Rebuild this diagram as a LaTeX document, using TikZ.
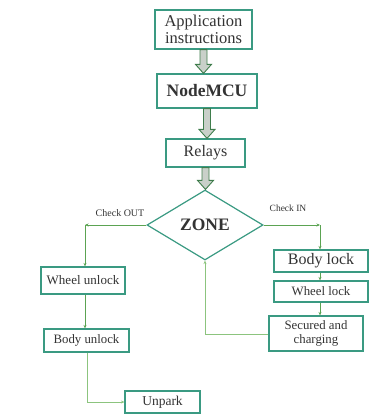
\documentclass[tikz,border=0pt]{standalone}
\usepackage{fontspec}
\setmainfont{Liberation Serif}
\usetikzlibrary{shapes.geometric,arrows.meta,calc}
\definecolor{boxc}{HTML}{3A9A82}
\definecolor{linec}{HTML}{5BA352}
\definecolor{linel}{HTML}{8CC47E}
\definecolor{harc}{HTML}{3F7D4C}
\definecolor{harf}{HTML}{C9D0C9}
\definecolor{txt}{HTML}{333333}
\newcommand\harrow[2]{\draw[harrowstyle] let \p1=(#1.south), \p2=(#2.north) in
  (\x1-3.5pt,\y1) -- (\x1+3.5pt,\y1) -- (\x1+3.5pt,\y2+9pt) -- (\x1+8pt,\y2+9pt) -- (\x1,\y2)
  -- (\x1-8pt,\y2+9pt) -- (\x1-3.5pt,\y2+9pt) -- cycle;}
\begin{document}
\begin{tikzpicture}[x=1pt,y=-1pt,
  box/.style={draw=boxc,line width=1.2pt,fill=white,text=txt,inner sep=0pt,align=center},
  harrowstyle/.style={draw=harc,fill=harf,line width=0.9pt,line join=miter},
  conn/.style={draw=linec,line width=0.7pt,-{Stealth[length=3.5pt,width=3pt]}},
  connl/.style={draw=linel,line width=0.7pt},
  lab/.style={text=txt,inner sep=0pt}]
\useasboundingbox (0,0) rectangle (383,417);
\node[box,minimum width=97pt,minimum height=39pt,font=\fontsize{16.5}{17}\selectfont] (app) at (203.5,29.5) {Application\\instructions};
\node[box,minimum width=100pt,minimum height=34pt,font=\fontsize{17.5}{18}\selectfont\bfseries] (mcu) at (207,91) {NodeMCU};
\node[box,minimum width=79pt,minimum height=28pt,font=\fontsize{16}{17}\selectfont] (rel) at (205.5,153) {Relays};
\node[diamond,draw=boxc,line width=1.2pt,fill=white,text=txt,inner sep=0pt,minimum width=116pt,minimum height=70pt,font=\fontsize{17.5}{18}\selectfont\bfseries] (zone) at (205,225) {ZONE};
\node[box,minimum width=84pt,minimum height=27pt,font=\fontsize{13}{14}\selectfont] (wu) at (83,280.5) {Wheel unlock};
\node[box,minimum width=85pt,minimum height=23pt,font=\fontsize{12.8}{14}\selectfont] (bu) at (86.5,340.5) {Body unlock};
\node[box,minimum width=75pt,minimum height=22pt,font=\fontsize{13.5}{14}\selectfont] (up) at (162.5,402) {Unpark};
\node[box,minimum width=94pt,minimum height=22pt,font=\fontsize{16}{17}\selectfont] (bl) at (321,261) {Body lock};
\node[box,minimum width=94pt,minimum height=21pt,font=\fontsize{12.8}{14}\selectfont] (wl) at (321,291.5) {Wheel lock};
\node[box,minimum width=94pt,minimum height=35pt,font=\fontsize{12.8}{14}\selectfont] (sc) at (316,333.5) {Secured and\\charging};
\node[lab,font=\fontsize{10}{11}\selectfont] (lout) at (120,213) {Check OUT};
\node[lab,font=\fontsize{9.5}{10}\selectfont] (lin) at (288,208) {Check IN};
\coordinate (cl) at (85,225);
\coordinate (cr) at (320,225);
\coordinate (cb) at (87,402);
\coordinate (cs) at (205,334);
\harrow{app}{mcu}
\harrow{mcu}{rel}
\harrow{rel}{zone}
\draw[conn] (zone.west) -- (cl);
\draw[conn] (cl) -- (cl |- wu.north);
\draw[conn] (wu.south -| cl) -- (bu.north -| cl);
\draw[connl] (bu.south -| cb) -- (cb);
\draw[conn,draw=linel] (cb) -- (up.west);
\draw[conn] (zone.east) -- (cr);
\draw[conn] (cr) -- (cr |- bl.north);
\draw[conn] (bl.south -| cr) -- (wl.north -| cr);
\draw[conn] (wl.south -| cr) -- (sc.north -| cr);
\draw[connl] (sc.west |- cs) -- (cs);
\draw[conn,draw=linel] (cs) -- (zone.south);
\end{tikzpicture}
\end{document}
